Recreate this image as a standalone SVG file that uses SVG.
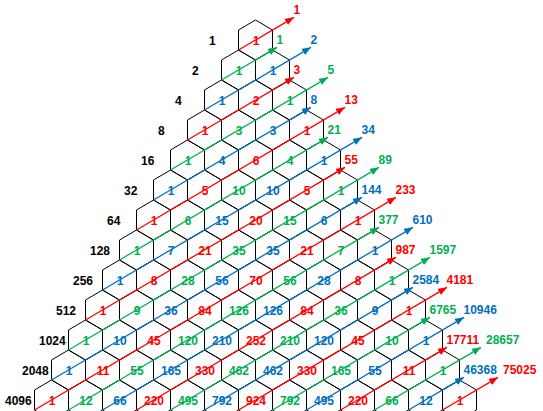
<svg xmlns="http://www.w3.org/2000/svg" xmlns:xlink="http://www.w3.org/1999/xlink" width="543" height="411" viewBox="0 0 543 411">
<style>
text{font-family:"Liberation Sans",Arial,sans-serif;font-weight:bold;font-size:12px}
.node text{text-anchor:middle}
.r{fill:#FF0000}.g{fill:#00B050}.b{fill:#0070C0}.k{fill:#000}
.cr{stroke:#FF0000}.cg{stroke:#00B050}.cb{stroke:#0070C0}
#connectors line{stroke-width:1.3;fill:none}
#connectors line.cr{marker-end:url(#ar)}
#connectors line.cg{marker-end:url(#ag)}
#connectors line.cb{marker-end:url(#ab)}
</style>
<defs>
<polygon id="hx" points="0,-20 17,-10 17,10 0,20 -17,10 -17,-10" fill="none" stroke="#000" stroke-width="1"/>
<marker id="ar" markerUnits="userSpaceOnUse" markerWidth="10" markerHeight="8" refX="9" refY="3.5" orient="auto"><path d="M0,0 L9,3.5 L0,7 z" fill="#FF0000"/></marker>
<marker id="ag" markerUnits="userSpaceOnUse" markerWidth="10" markerHeight="8" refX="9" refY="3.5" orient="auto"><path d="M0,0 L9,3.5 L0,7 z" fill="#00B050"/></marker>
<marker id="ab" markerUnits="userSpaceOnUse" markerWidth="10" markerHeight="8" refX="9" refY="3.5" orient="auto"><path d="M0,0 L9,3.5 L0,7 z" fill="#0070C0"/></marker>
</defs>
<rect width="543" height="411" fill="#fff"/>

<g id="row-labels" class="k">
<text x="209" y="44.5">1</text>
<text x="192" y="74.5">2</text>
<text x="175" y="104.5">4</text>
<text x="158" y="134.5">8</text>
<text x="141" y="164.5">16</text>
<text x="124" y="194.5">32</text>
<text x="107" y="224.5">64</text>
<text x="90" y="254.5">128</text>
<text x="73" y="284.5">256</text>
<text x="56" y="314.5">512</text>
<text x="39" y="344.5">1024</text>
<text x="22" y="374.5">2048</text>
<text x="5" y="404.5">4096</text>
</g>

<g id="nodes">
<g id="n0-0" class="node r" transform="translate(255.5,40)"><use href="#hx"/><text x="0.5" y="4.5">1</text></g>

<g id="n1-0" class="node g" transform="translate(238.5,70)"><use href="#hx"/><text x="0.5" y="4.5">1</text></g>
<g id="n1-1" class="node b" transform="translate(272.5,70)"><use href="#hx"/><text x="0.5" y="4.5">1</text></g>

<g id="n2-0" class="node b" transform="translate(221.5,100)"><use href="#hx"/><text x="0.5" y="4.5">1</text></g>
<g id="n2-1" class="node r" transform="translate(255.5,100)"><use href="#hx"/><text x="0.5" y="4.5">2</text></g>
<g id="n2-2" class="node g" transform="translate(289.5,100)"><use href="#hx"/><text x="0.5" y="4.5">1</text></g>

<g id="n3-0" class="node r" transform="translate(204.5,130)"><use href="#hx"/><text x="0.5" y="4.5">1</text></g>
<g id="n3-1" class="node g" transform="translate(238.5,130)"><use href="#hx"/><text x="0.5" y="4.5">3</text></g>
<g id="n3-2" class="node b" transform="translate(272.5,130)"><use href="#hx"/><text x="0.5" y="4.5">3</text></g>
<g id="n3-3" class="node r" transform="translate(306.5,130)"><use href="#hx"/><text x="0.5" y="4.5">1</text></g>

<g id="n4-0" class="node g" transform="translate(187.5,160)"><use href="#hx"/><text x="0.5" y="4.5">1</text></g>
<g id="n4-1" class="node b" transform="translate(221.5,160)"><use href="#hx"/><text x="0.5" y="4.5">4</text></g>
<g id="n4-2" class="node r" transform="translate(255.5,160)"><use href="#hx"/><text x="0.5" y="4.5">6</text></g>
<g id="n4-3" class="node g" transform="translate(289.5,160)"><use href="#hx"/><text x="0.5" y="4.5">4</text></g>
<g id="n4-4" class="node b" transform="translate(323.5,160)"><use href="#hx"/><text x="0.5" y="4.5">1</text></g>

<g id="n5-0" class="node b" transform="translate(170.5,190)"><use href="#hx"/><text x="0.5" y="4.5">1</text></g>
<g id="n5-1" class="node r" transform="translate(204.5,190)"><use href="#hx"/><text x="0.5" y="4.5">5</text></g>
<g id="n5-2" class="node g" transform="translate(238.5,190)"><use href="#hx"/><text x="0.5" y="4.5">10</text></g>
<g id="n5-3" class="node b" transform="translate(272.5,190)"><use href="#hx"/><text x="0.5" y="4.5">10</text></g>
<g id="n5-4" class="node r" transform="translate(306.5,190)"><use href="#hx"/><text x="0.5" y="4.5">5</text></g>
<g id="n5-5" class="node g" transform="translate(340.5,190)"><use href="#hx"/><text x="0.5" y="4.5">1</text></g>

<g id="n6-0" class="node r" transform="translate(153.5,220)"><use href="#hx"/><text x="0.5" y="4.5">1</text></g>
<g id="n6-1" class="node g" transform="translate(187.5,220)"><use href="#hx"/><text x="0.5" y="4.5">6</text></g>
<g id="n6-2" class="node b" transform="translate(221.5,220)"><use href="#hx"/><text x="0.5" y="4.5">15</text></g>
<g id="n6-3" class="node r" transform="translate(255.5,220)"><use href="#hx"/><text x="0.5" y="4.5">20</text></g>
<g id="n6-4" class="node g" transform="translate(289.5,220)"><use href="#hx"/><text x="0.5" y="4.5">15</text></g>
<g id="n6-5" class="node b" transform="translate(323.5,220)"><use href="#hx"/><text x="0.5" y="4.5">6</text></g>
<g id="n6-6" class="node r" transform="translate(357.5,220)"><use href="#hx"/><text x="0.5" y="4.5">1</text></g>

<g id="n7-0" class="node g" transform="translate(136.5,250)"><use href="#hx"/><text x="0.5" y="4.5">1</text></g>
<g id="n7-1" class="node b" transform="translate(170.5,250)"><use href="#hx"/><text x="0.5" y="4.5">7</text></g>
<g id="n7-2" class="node r" transform="translate(204.5,250)"><use href="#hx"/><text x="0.5" y="4.5">21</text></g>
<g id="n7-3" class="node g" transform="translate(238.5,250)"><use href="#hx"/><text x="0.5" y="4.5">35</text></g>
<g id="n7-4" class="node b" transform="translate(272.5,250)"><use href="#hx"/><text x="0.5" y="4.5">35</text></g>
<g id="n7-5" class="node r" transform="translate(306.5,250)"><use href="#hx"/><text x="0.5" y="4.5">21</text></g>
<g id="n7-6" class="node g" transform="translate(340.5,250)"><use href="#hx"/><text x="0.5" y="4.5">7</text></g>
<g id="n7-7" class="node b" transform="translate(374.5,250)"><use href="#hx"/><text x="0.5" y="4.5">1</text></g>

<g id="n8-0" class="node b" transform="translate(119.5,280)"><use href="#hx"/><text x="0.5" y="4.5">1</text></g>
<g id="n8-1" class="node r" transform="translate(153.5,280)"><use href="#hx"/><text x="0.5" y="4.5">8</text></g>
<g id="n8-2" class="node g" transform="translate(187.5,280)"><use href="#hx"/><text x="0.5" y="4.5">28</text></g>
<g id="n8-3" class="node b" transform="translate(221.5,280)"><use href="#hx"/><text x="0.5" y="4.5">56</text></g>
<g id="n8-4" class="node r" transform="translate(255.5,280)"><use href="#hx"/><text x="0.5" y="4.5">70</text></g>
<g id="n8-5" class="node g" transform="translate(289.5,280)"><use href="#hx"/><text x="0.5" y="4.5">56</text></g>
<g id="n8-6" class="node b" transform="translate(323.5,280)"><use href="#hx"/><text x="0.5" y="4.5">28</text></g>
<g id="n8-7" class="node r" transform="translate(357.5,280)"><use href="#hx"/><text x="0.5" y="4.5">8</text></g>
<g id="n8-8" class="node g" transform="translate(391.5,280)"><use href="#hx"/><text x="0.5" y="4.5">1</text></g>

<g id="n9-0" class="node r" transform="translate(102.5,310)"><use href="#hx"/><text x="0.5" y="4.5">1</text></g>
<g id="n9-1" class="node g" transform="translate(136.5,310)"><use href="#hx"/><text x="0.5" y="4.5">9</text></g>
<g id="n9-2" class="node b" transform="translate(170.5,310)"><use href="#hx"/><text x="0.5" y="4.5">36</text></g>
<g id="n9-3" class="node r" transform="translate(204.5,310)"><use href="#hx"/><text x="0.5" y="4.5">84</text></g>
<g id="n9-4" class="node g" transform="translate(238.5,310)"><use href="#hx"/><text x="0.5" y="4.5">126</text></g>
<g id="n9-5" class="node b" transform="translate(272.5,310)"><use href="#hx"/><text x="0.5" y="4.5">126</text></g>
<g id="n9-6" class="node r" transform="translate(306.5,310)"><use href="#hx"/><text x="0.5" y="4.5">84</text></g>
<g id="n9-7" class="node g" transform="translate(340.5,310)"><use href="#hx"/><text x="0.5" y="4.5">36</text></g>
<g id="n9-8" class="node b" transform="translate(374.5,310)"><use href="#hx"/><text x="0.5" y="4.5">9</text></g>
<g id="n9-9" class="node r" transform="translate(408.5,310)"><use href="#hx"/><text x="0.5" y="4.5">1</text></g>

<g id="n10-0" class="node g" transform="translate(85.5,340)"><use href="#hx"/><text x="0.5" y="4.5">1</text></g>
<g id="n10-1" class="node b" transform="translate(119.5,340)"><use href="#hx"/><text x="0.5" y="4.5">10</text></g>
<g id="n10-2" class="node r" transform="translate(153.5,340)"><use href="#hx"/><text x="0.5" y="4.5">45</text></g>
<g id="n10-3" class="node g" transform="translate(187.5,340)"><use href="#hx"/><text x="0.5" y="4.5">120</text></g>
<g id="n10-4" class="node b" transform="translate(221.5,340)"><use href="#hx"/><text x="0.5" y="4.5">210</text></g>
<g id="n10-5" class="node r" transform="translate(255.5,340)"><use href="#hx"/><text x="0.5" y="4.5">252</text></g>
<g id="n10-6" class="node g" transform="translate(289.5,340)"><use href="#hx"/><text x="0.5" y="4.5">210</text></g>
<g id="n10-7" class="node b" transform="translate(323.5,340)"><use href="#hx"/><text x="0.5" y="4.5">120</text></g>
<g id="n10-8" class="node r" transform="translate(357.5,340)"><use href="#hx"/><text x="0.5" y="4.5">45</text></g>
<g id="n10-9" class="node g" transform="translate(391.5,340)"><use href="#hx"/><text x="0.5" y="4.5">10</text></g>
<g id="n10-10" class="node b" transform="translate(425.5,340)"><use href="#hx"/><text x="0.5" y="4.5">1</text></g>

<g id="n11-0" class="node b" transform="translate(68.5,370)"><use href="#hx"/><text x="0.5" y="4.5">1</text></g>
<g id="n11-1" class="node r" transform="translate(102.5,370)"><use href="#hx"/><text x="0.5" y="4.5">11</text></g>
<g id="n11-2" class="node g" transform="translate(136.5,370)"><use href="#hx"/><text x="0.5" y="4.5">55</text></g>
<g id="n11-3" class="node b" transform="translate(170.5,370)"><use href="#hx"/><text x="0.5" y="4.5">165</text></g>
<g id="n11-4" class="node r" transform="translate(204.5,370)"><use href="#hx"/><text x="0.5" y="4.5">330</text></g>
<g id="n11-5" class="node g" transform="translate(238.5,370)"><use href="#hx"/><text x="0.5" y="4.5">462</text></g>
<g id="n11-6" class="node b" transform="translate(272.5,370)"><use href="#hx"/><text x="0.5" y="4.5">462</text></g>
<g id="n11-7" class="node r" transform="translate(306.5,370)"><use href="#hx"/><text x="0.5" y="4.5">330</text></g>
<g id="n11-8" class="node g" transform="translate(340.5,370)"><use href="#hx"/><text x="0.5" y="4.5">165</text></g>
<g id="n11-9" class="node b" transform="translate(374.5,370)"><use href="#hx"/><text x="0.5" y="4.5">55</text></g>
<g id="n11-10" class="node r" transform="translate(408.5,370)"><use href="#hx"/><text x="0.5" y="4.5">11</text></g>
<g id="n11-11" class="node g" transform="translate(442.5,370)"><use href="#hx"/><text x="0.5" y="4.5">1</text></g>

<g id="n12-0" class="node r" transform="translate(51.5,400)"><use href="#hx"/><text x="0.5" y="4.5">1</text></g>
<g id="n12-1" class="node g" transform="translate(85.5,400)"><use href="#hx"/><text x="0.5" y="4.5">12</text></g>
<g id="n12-2" class="node b" transform="translate(119.5,400)"><use href="#hx"/><text x="0.5" y="4.5">66</text></g>
<g id="n12-3" class="node r" transform="translate(153.5,400)"><use href="#hx"/><text x="0.5" y="4.5">220</text></g>
<g id="n12-4" class="node g" transform="translate(187.5,400)"><use href="#hx"/><text x="0.5" y="4.5">495</text></g>
<g id="n12-5" class="node b" transform="translate(221.5,400)"><use href="#hx"/><text x="0.5" y="4.5">792</text></g>
<g id="n12-6" class="node r" transform="translate(255.5,400)"><use href="#hx"/><text x="0.5" y="4.5">924</text></g>
<g id="n12-7" class="node g" transform="translate(289.5,400)"><use href="#hx"/><text x="0.5" y="4.5">792</text></g>
<g id="n12-8" class="node b" transform="translate(323.5,400)"><use href="#hx"/><text x="0.5" y="4.5">495</text></g>
<g id="n12-9" class="node r" transform="translate(357.5,400)"><use href="#hx"/><text x="0.5" y="4.5">220</text></g>
<g id="n12-10" class="node g" transform="translate(391.5,400)"><use href="#hx"/><text x="0.5" y="4.5">66</text></g>
<g id="n12-11" class="node b" transform="translate(425.5,400)"><use href="#hx"/><text x="0.5" y="4.5">12</text></g>
<g id="n12-12" class="node r" transform="translate(459.5,400)"><use href="#hx"/><text x="0.5" y="4.5">1</text></g>
</g>

<g id="connectors">
<line class="cr" x1="238.5" y1="50" x2="294" y2="17.35"/>
<line class="cg" x1="221.5" y1="80" x2="277" y2="47.35"/>
<line class="cb" x1="204.5" y1="110" x2="311" y2="47.35"/>
<line class="cr" x1="187.5" y1="140" x2="294" y2="77.35"/>
<line class="cg" x1="170.5" y1="170" x2="328" y2="77.35"/>
<line class="cb" x1="153.5" y1="200" x2="311" y2="107.35"/>
<line class="cr" x1="136.5" y1="230" x2="345" y2="107.35"/>
<line class="cg" x1="119.5" y1="260" x2="328" y2="137.35"/>
<line class="cb" x1="102.5" y1="290" x2="362" y2="137.35"/>
<line class="cr" x1="85.5" y1="320" x2="345" y2="167.35"/>
<line class="cg" x1="68.5" y1="350" x2="379" y2="167.35"/>
<line class="cb" x1="51.5" y1="380" x2="362" y2="197.35"/>
<line class="cr" x1="34.5" y1="410" x2="396" y2="197.35"/>
<line class="cg" x1="68.5" y1="410" x2="379" y2="227.35"/>
<line class="cb" x1="102.5" y1="410" x2="413" y2="227.35"/>
<line class="cr" x1="136.5" y1="410" x2="396" y2="257.35"/>
<line class="cg" x1="170.5" y1="410" x2="430" y2="257.35"/>
<line class="cb" x1="204.5" y1="410" x2="413" y2="287.35"/>
<line class="cr" x1="238.5" y1="410" x2="447" y2="287.35"/>
<line class="cg" x1="272.5" y1="410" x2="430" y2="317.35"/>
<line class="cb" x1="306.5" y1="410" x2="464" y2="317.35"/>
<line class="cr" x1="340.5" y1="410" x2="447" y2="347.35"/>
<line class="cg" x1="374.5" y1="410" x2="481" y2="347.35"/>
<line class="cb" x1="408.5" y1="410" x2="464" y2="377.35"/>
<line class="cr" x1="442.5" y1="410" x2="498" y2="377.35"/>
</g>

<g id="connector-labels">
<text class="r" x="293.5" y="14">1</text>
<text class="g" x="276.5" y="44">1</text>
<text class="b" x="310.5" y="44">2</text>
<text class="r" x="293.5" y="74">3</text>
<text class="g" x="327.5" y="74">5</text>
<text class="b" x="310.5" y="104">8</text>
<text class="r" x="344.5" y="104">13</text>
<text class="g" x="327.5" y="134">21</text>
<text class="b" x="361.5" y="134">34</text>
<text class="r" x="344.5" y="164">55</text>
<text class="g" x="378.5" y="164">89</text>
<text class="b" x="361.5" y="194">144</text>
<text class="r" x="395.5" y="194">233</text>
<text class="g" x="378.5" y="224">377</text>
<text class="b" x="412.5" y="224">610</text>
<text class="r" x="395.5" y="254">987</text>
<text class="g" x="429.5" y="254">1597</text>
<text class="b" x="412.5" y="284">2584</text>
<text class="r" x="446.5" y="284">4181</text>
<text class="g" x="429.5" y="314">6765</text>
<text class="b" x="463.5" y="314">10946</text>
<text class="r" x="446.5" y="344">17711</text>
<text class="g" x="486" y="344">28657</text>
<text class="b" x="463.5" y="374">46368</text>
<text class="r" x="503" y="374">75025</text>
</g>
</svg>
